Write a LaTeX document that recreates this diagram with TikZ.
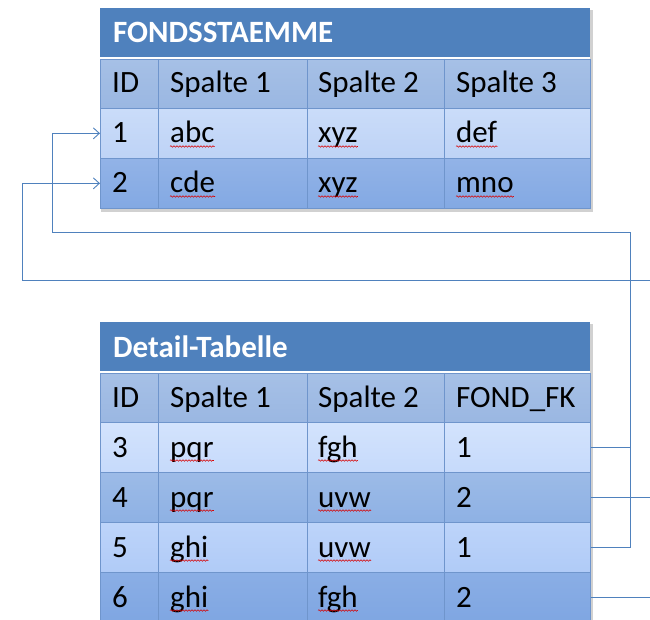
\documentclass[tikz,border=0pt]{standalone}
\usepackage{fontspec}
\setmainfont{Carlito}
\usetikzlibrary{arrows.meta,decorations.pathmorphing}
\definecolor{titlebl}{HTML}{4F81BD}
\definecolor{gridbl}{HTML}{6F95CC}
\definecolor{hdrtop}{HTML}{A6C0E6}
\definecolor{hdrbot}{HTML}{9AB7E2}
\definecolor{ltAtop}{HTML}{CADCF9}
\definecolor{ltAbot}{HTML}{BED3F6}
\definecolor{dkAtop}{HTML}{92B3E7}
\definecolor{dkAbot}{HTML}{83A9E3}
\definecolor{ltBtop}{HTML}{D3E3FD}
\definecolor{ltBbot}{HTML}{C6DAFB}
\definecolor{dkBtop}{HTML}{9CBBE7}
\definecolor{dkBbot}{HTML}{8EB1E4}
\definecolor{ltCtop}{HTML}{BDD4FA}
\definecolor{ltCbot}{HTML}{B0CBF7}
\definecolor{dkCtop}{HTML}{8AAEE5}
\definecolor{dkCbot}{HTML}{7FA6E2}
\definecolor{linkbl}{HTML}{4F81BD}
\newcommand\spellmark[1]{\draw[spell] ([yshift=-3.5pt]#1.base west) -- ([yshift=-3.5pt]#1.base east);}
\begin{document}
\begin{tikzpicture}[x=1pt,y=1pt,
  rowbox/.style={draw=gridbl, line width=0.7pt, inner sep=0pt, minimum width=490pt, anchor=north west},
  titlebox/.style={fill=titlebl, inner sep=0pt, minimum width=490pt, minimum height=49pt, anchor=north west},
  cell/.style={anchor=base west, inner sep=0pt, font=\fontsize{31}{37}\selectfont},
  ttl/.style={anchor=base west, inner sep=0pt, text=white, font=\fontsize{31}{37}\selectfont\bfseries},
  colline/.style={draw=gridbl, line width=0.7pt},
  link/.style={draw=linkbl, line width=0.9pt},
  tip/.style={-{Straight Barb[length=6pt,width=11pt,line width=0.9pt]}},
  spell/.style={draw=red!85!black, line width=0.55pt, decorate, decoration={snake, amplitude=0.8pt, segment length=3pt}},
  shadowbox/.style={fill=black, opacity=0.18}]
\clip (0,0) rectangle (650,-620);

% ---------- top table ----------
\fill[shadowbox] (101,-10) rectangle (593,-212);
\node[titlebox] (t1) at (100,-8) {};
\fill[white] (100,-57) rectangle (590,-59);
\node[rowbox, minimum height=49pt, top color=hdrtop, bottom color=hdrbot] (h1) at (100,-59) {};
\node[rowbox, minimum height=50pt, top color=ltAtop, bottom color=ltAbot] (r1) at (100,-108) {};
\node[rowbox, minimum height=50pt, top color=dkAtop, bottom color=dkAbot] (r2) at (100,-158) {};
\foreach \cx in {158,307,444} \draw[colline] (\cx,-59) -- (\cx,-208);

\node[ttl] (t1txt) at (113,-43) {FONDSSTAEMME};
\node[cell] (h1a) at (112,-93) {ID};
\node[cell] (h1b) at (170,-93) {Spalte 1};
\node[cell] (h1c) at (318,-93) {Spalte 2};
\node[cell] (h1d) at (456,-93) {Spalte 3};
\node[cell] (r1a) at (112,-143) {1};
\node[cell] (r1b) at (170,-143) {abc};
\node[cell] (r1c) at (318,-143) {xyz};
\node[cell] (r1d) at (456,-143) {def};
\node[cell] (r2a) at (112,-193) {2};
\node[cell] (r2b) at (170,-193) {cde};
\node[cell] (r2c) at (318,-193) {xyz};
\node[cell] (r2d) at (456,-193) {mno};

% ---------- bottom table ----------
\fill[shadowbox] (101,-324) rectangle (593,-630);
\node[titlebox] (t2) at (100,-322) {};
\fill[white] (100,-371) rectangle (590,-373);
\node[rowbox, minimum height=49pt, top color=hdrtop, bottom color=hdrbot] (h2) at (100,-373) {};
\node[rowbox, minimum height=50pt, top color=ltBtop, bottom color=ltBbot] (r3) at (100,-422) {};
\node[rowbox, minimum height=50pt, top color=dkBtop, bottom color=dkBbot] (r4) at (100,-472) {};
\node[rowbox, minimum height=50pt, top color=ltCtop, bottom color=ltCbot] (r5) at (100,-522) {};
\node[rowbox, minimum height=50pt, top color=dkCtop, bottom color=dkCbot] (r6) at (100,-572) {};
\foreach \cx in {158,307,444} \draw[colline] (\cx,-373) -- (\cx,-622);

\node[ttl] (t2txt) at (113,-357) {Detail-Tabelle};
\node[cell] (h2a) at (112,-407) {ID};
\node[cell] (h2b) at (170,-407) {Spalte 1};
\node[cell] (h2c) at (318,-407) {Spalte 2};
\node[cell] (h2d) at (456,-407) {FOND\_FK};
\node[cell] (r3a) at (112,-457) {3};
\node[cell] (r3b) at (170,-457) {pqr};
\node[cell] (r3c) at (318,-457) {fgh};
\node[cell] (r3d) at (456,-457) {1};
\node[cell] (r4a) at (112,-507) {4};
\node[cell] (r4b) at (170,-507) {pqr};
\node[cell] (r4c) at (318,-507) {uvw};
\node[cell] (r4d) at (456,-507) {2};
\node[cell] (r5a) at (112,-557) {5};
\node[cell] (r5b) at (170,-557) {ghi};
\node[cell] (r5c) at (318,-557) {uvw};
\node[cell] (r5d) at (456,-557) {1};
\node[cell] (r6a) at (112,-607) {6};
\node[cell] (r6b) at (170,-607) {ghi};
\node[cell] (r6c) at (318,-607) {fgh};
\node[cell] (r6d) at (456,-607) {2};

% spell-check underlines
\spellmark{r1b}\spellmark{r1c}\spellmark{r1d}
\spellmark{r2b}\spellmark{r2c}\spellmark{r2d}
\spellmark{r3b}\spellmark{r3c}
\spellmark{r4b}\spellmark{r4c}
\spellmark{r5b}\spellmark{r5c}
\spellmark{r6b}\spellmark{r6c}

% ---------- connectors ----------
\coordinate (j1) at (630,-232);
\coordinate (k1) at (52,-232);
\coordinate (j2) at (668,-280);
\coordinate (k2) at (22,-280);
\draw[link, tip] (r5.east) -| (j1) -- (k1) |- (r1.west);
\draw[link] (r3.east) -- (r3.east -| j1);
\draw[link, tip] (r4.east) -| (j2) -- (k2) |- (r2.west);
\draw[link] (r6.east) -| (j2);
\end{tikzpicture}
\end{document}
